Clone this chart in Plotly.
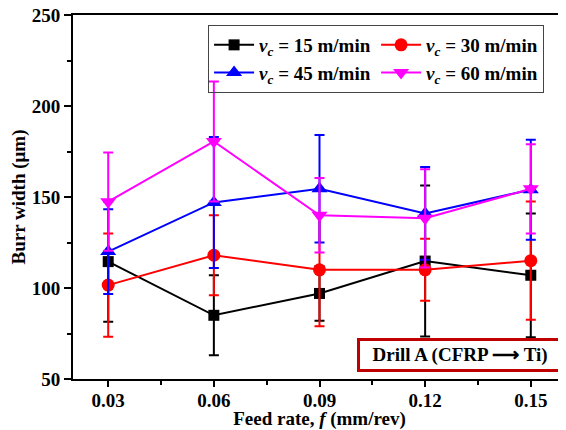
import plotly.graph_objects as go

feed = [0.03, 0.06, 0.09, 0.12, 0.15]
w15 = [114.5, 85, 97, 114.8, 107]
e15 = [33, 22, 15, 41.5, 34]
w30 = [101.6, 118, 110, 110, 115]
e30 = [28.4, 22, 31, 17, 32.5]
w45 = [120, 147, 154.5, 141, 154]
e45 = [23.3, 36, 29.5, 25.5, 27.5]
w60 = [147.4, 180.5, 140, 138.3, 154.5]
e60 = [27, 33, 20.5, 27, 24.5]

names = ["<i>v</i><sub><i>c</i></sub> = 15 m/min", "<i>v</i><sub><i>c</i></sub> = 30 m/min",
         "<i>v</i><sub><i>c</i></sub> = 45 m/min", "<i>v</i><sub><i>c</i></sub> = 60 m/min"]
colors = ["#000000", "#ff0000", "#0000ff", "#ff00ff"]
symbols = ["square", "circle", "triangle-up", "triangle-down"]
sizes = [11, 13, 14, 14]

FONT = "Liberation Serif"
fig = go.Figure()
for ys, es, nm, c, s, sz in zip([w15, w30, w45, w60], [e15, e30, e45, e60], names, colors, symbols, sizes):
    fig.add_trace(go.Scatter(
        x=feed, y=ys, name=nm, mode="lines+markers",
        line=dict(color=c, width=2),
        marker=dict(color=c, symbol=s, size=sz),
        error_y=dict(type="data", array=es, symmetric=True, color=c, thickness=2, width=5),
    ))

axis_font = dict(family=FONT, size=19, color="black", weight="bold")
# page body has an 8px margin: figure is shrunk/offset accordingly
fig.update_layout(
    width=558, height=422,
    margin=dict(l=65, r=0, t=7, b=51, autoexpand=False),
    plot_bgcolor="white", paper_bgcolor="white",
    font=dict(family=FONT, color="black", weight="bold"),
    showlegend=True,
    legend=dict(
        orientation="h", x=0.274, y=0.9725, xanchor="left", yanchor="top",
        font=dict(family=FONT, size=19, color="black", weight="bold"),
        bordercolor="#444444", borderwidth=1, bgcolor="rgba(0,0,0,0)",
        itemwidth=40, entrywidth=112, entrywidthmode="pixels",
    ),
    xaxis=dict(
        range=[0.02, 0.16], tick0=0.03, dtick=0.03, tickformat=".2f",
        showgrid=False, zeroline=False,
        showline=True, linecolor="black", linewidth=2, mirror=True,
        ticks="outside", ticklen=6, tickwidth=2, tickcolor="black",
        minor=dict(dtick=0.015, tick0=0.03, ticks="outside", ticklen=4, tickwidth=2, tickcolor="black", showgrid=False),
        tickfont=axis_font, ticklabelstandoff=-3,
        title=dict(text="Feed rate, <i>f</i> (mm/rev)", font=dict(family=FONT, size=19, color="black", weight="bold"), standoff=5),
    ),
    yaxis=dict(
        range=[50, 250], dtick=50,
        showgrid=False, zeroline=False,
        showline=True, linecolor="black", linewidth=2, mirror=False,
        ticks="outside", ticklen=7, tickwidth=2, tickcolor="black",
        minor=dict(dtick=25, ticks="outside", ticklen=4, tickwidth=2, tickcolor="black", showgrid=False),
        tickfont=axis_font, ticklabeloverflow="allow",
        title=dict(text="Burr width (μm)", font=dict(family=FONT, size=19, color="black", weight="bold"), standoff=8),
    ),
)

fig.add_annotation(
    text="&nbsp;&nbsp;Drill A (CFRP ⟶ Ti)&nbsp;&nbsp;", xref="paper", yref="paper",
    x=0.993, y=0.02, xanchor="right", yanchor="bottom", showarrow=False,
    font=dict(family=FONT, size=19, color="black", weight="bold"),
    bordercolor="#c00000", borderwidth=3, borderpad=3, bgcolor="white",
)

fig.write_html("out.html")
